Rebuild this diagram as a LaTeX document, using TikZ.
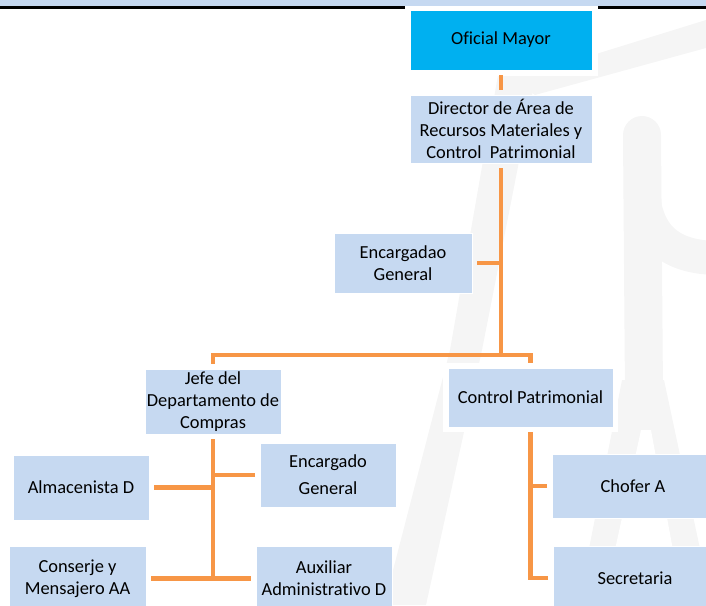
\documentclass[tikz,border=0pt]{standalone}
\usepackage{fontspec}
\setmainfont{Carlito}[Ligatures=NoCommon]
\definecolor{boxblue}{HTML}{C6D9F1}
\definecolor{topblue}{HTML}{00B0F0}
\definecolor{lineorange}{HTML}{F79646}
\definecolor{wm}{RGB}{245,245,245}
\definecolor{hdr}{HTML}{C6D9F1}
\tikzset{
  orgbox/.style={rectangle, fill=boxblue, draw=white, line width=1pt, inner sep=0pt,
    outer sep=5pt, align=center, font=\fontsize{18.4}{22}\selectfont},
  conn/.style={draw=lineorange, line width=4.5pt}
}
\begin{document}
\begin{tikzpicture}[x=1pt,y=-1pt]
\useasboundingbox (0,0) rectangle (706,605);
\clip (0,0) rectangle (706,605);
% watermark
\fill[wm] (498,75) -- (536,75) -- (482,350) -- (426,605) -- (384,605) -- (450,350) -- cycle;
\fill[wm] (512,80) -- (706,20) -- (706,48) -- (535,95) -- cycle;
\draw[wm, line width=38pt, line cap=round] (642,135) -- (644,395);
\draw[wm, line width=34pt] (643,195) .. controls (648,245) and (680,258) .. (720,258);
\fill[wm] (622,380) -- (664,380) -- (712,605) -- (578,605) -- cycle;
\fill[white] (641,430) -- (651,430) -- (683,605) -- (603,605) -- cycle;
% header
\fill[hdr] (0,0) rectangle (706,6);
\fill[black] (0,6) rectangle (706,9);
\fill[white] (405,6) rectangle (598,76);
\fill[white] (443,363) rectangle (618,432);
% nodes
\node[orgbox, fill=topblue, minimum width=182pt, minimum height=60pt] (om) at (501,40) {Oficial Mayor};
\node[orgbox, minimum width=182pt, minimum height=68pt] (dir) at (501,129) {Director de Área de\\Recursos Materiales y\\Control\ \ Patrimonial};
\node[orgbox, minimum width=138pt, minimum height=60pt] (enca) at (403,263) {Encargadao\\General};
\node[orgbox, minimum width=136pt, minimum height=65pt] (jefe) at (213,401.5) {Jefe del\\Departamento de\\Compras};
\node[orgbox, minimum width=165pt, minimum height=59pt] (ctrl) at (530.5,397.5) {Control Patrimonial};
\node[orgbox, minimum width=136pt, minimum height=65pt] (alm) at (81,487.5) {Almacenista D};
\node[orgbox, minimum width=136pt, minimum height=64pt, font=\fontsize{18.4}{27}\selectfont] (encb) at (328,475) {Encargado\\General};
\node[orgbox, minimum width=137pt, minimum height=65pt] (cons) at (77.5,578.5) {Conserje y\\Mensajero AA};
\node[orgbox, minimum width=136pt, minimum height=65pt] (aux) at (324,578.5) {Auxiliar\\Administrativo D};
\node[orgbox, minimum width=162pt, minimum height=64pt] (chof) at (633,486) {Chofer A};
\node[orgbox, minimum width=164pt, minimum height=64pt] (sec) at (635,578) {Secretaria};
% connectors
\coordinate (bar) at (501,355);
\coordinate (jend) at (213,580);
\coordinate (cend) at (530.5,580);
\draw[conn] (om.south) -- (dir.north);
\draw[conn] (dir.south) -- (bar);
\draw[conn] (enca.east) -- (enca.east -| dir.south);
\draw[conn] (bar) -| (jefe.north);
\draw[conn] (bar) -| (ctrl.north);
\draw[conn] (jefe.south) -- (jend);
\draw[conn] (encb.west) -- (encb.west -| jefe.south);
\draw[conn] (alm.east) -- (alm.east -| jefe.south);
\draw[conn] (cons.east) -- (aux.west);
\draw[conn] (ctrl.south) -- (cend);
\draw[conn] (chof.west) -- (chof.west -| ctrl.south);
\draw[conn] (sec.west) -- (sec.west -| ctrl.south);
\end{tikzpicture}
\end{document}
